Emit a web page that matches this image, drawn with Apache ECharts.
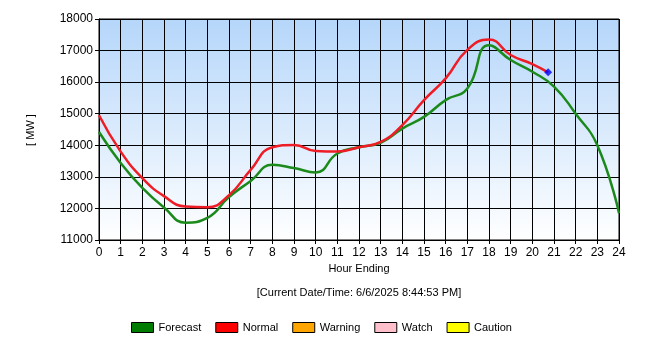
<!DOCTYPE html>
<html>
<head>
<meta charset="utf-8">
<title>System Load</title>
<script src="https://cdn.jsdelivr.net/npm/echarts@6/dist/echarts.min.js"></script>
<style>
  html, body { margin: 0; padding: 0; background: #ffffff; }
  #chart { width: 650px; height: 350px; }
</style>
</head>
<body>
<div id="chart"></div>
<script>
// Hourly system load in MW
const forecastHours = [0, 1, 2, 3, 4, 5, 6, 7, 8, 9, 10, 11, 12, 13, 14, 15, 16, 17, 18, 19, 20, 21, 22, 23, 24];
const forecastMW = [14420, 13440, 12650, 12030, 11550, 11700, 12360, 12870, 13380, 13280, 13140, 13740, 13940, 14080, 14530, 14900, 15430, 15800, 17170, 16700, 16330, 15860, 15000, 14000, 11850];

const normalHours = [0, 1, 2, 3, 4, 5, 6, 7, 8, 9, 10, 11, 12, 13, 14, 15, 16, 17, 18, 19, 20, 20.73];
const normalMW = [14950, 13800, 12960, 12390, 12060, 12040, 12420, 13220, 13940, 14010, 13820, 13800, 13940, 14110, 14640, 15430, 16120, 17020, 17350, 16860, 16570, 16310];

const yTicks = { min: 11000, max: 18000, step: 1000 };
const xTicks = { min: 0, max: 24, step: 1 };

const legendNames = ['Forecast', 'Normal', 'Warning', 'Watch', 'Caution'];
const legendColors = ['#007c00', '#ff0000', '#ffa500', '#ffc0cb', '#ffff00'];

const timestamp = '[Current Date/Time: 6/6/2025 8:44:53 PM]';

const pairs = (xs, ys) => xs.map((x, i) => [x, ys[i]]);
const lastNormal = [normalHours[normalHours.length - 1], normalMW[normalMW.length - 1]];

const font = 'Arial, "Liberation Sans", sans-serif';

const chart = echarts.init(document.getElementById('chart'), null, { renderer: 'canvas' });

const emptySeries = legendNames.slice(2).map((name, i) => ({
  name: name,
  type: 'line',
  data: [],
  itemStyle: { color: legendColors[i + 2] }
}));

chart.setOption({
  animation: false,
  backgroundColor: '#ffffff',
  textStyle: { fontFamily: font },
  grid: {
    left: 99, right: 31, top: 19, bottom: 110,
    show: true,
    borderColor: '#000000',
    borderWidth: 1,
    backgroundColor: new echarts.graphic.LinearGradient(0, 0, 0, 1, [
      { offset: 0, color: '#b5d6fa' },
      { offset: 1, color: '#ffffff' }
    ])
  },
  xAxis: {
    type: 'value',
    min: xTicks.min, max: xTicks.max, interval: xTicks.step,
    axisLine: { show: true, onZero: false, lineStyle: { color: '#000', width: 1 } },
    axisTick: { show: true, length: 4, lineStyle: { color: '#000' } },
    axisLabel: { color: '#000', fontSize: 12, margin: 7, fontFamily: font },
    splitLine: { show: true, lineStyle: { color: '#000', width: 1 } }
  },
  yAxis: {
    type: 'value',
    min: yTicks.min, max: yTicks.max, interval: yTicks.step,
    axisLine: { show: true, lineStyle: { color: '#000', width: 1 } },
    axisTick: { show: true, length: 4, lineStyle: { color: '#000' } },
    axisLabel: { color: '#000', fontSize: 12, margin: 6, fontFamily: font, formatter: v => String(v) },
    splitLine: { show: true, lineStyle: { color: '#000', width: 1 } }
  },
  legend: {
    data: legendNames,
    left: 126, top: 317,
    icon: 'rect',
    itemWidth: 22, itemHeight: 10, itemGap: 14,
    itemStyle: { borderColor: '#000', borderWidth: 1 },
    textStyle: { color: '#000', fontSize: 11, fontFamily: font },
    selectedMode: false
  },
  series: [
    {
      name: 'Forecast',
      type: 'line',
      data: pairs(forecastHours, forecastMW),
      smooth: 0.5,
      symbol: 'none',
      itemStyle: { color: legendColors[0] },
      lineStyle: { color: '#1b8a1b', width: 2.5 },
      z: 3
    },
    {
      name: 'Normal',
      type: 'line',
      data: pairs(normalHours, normalMW),
      smooth: 0.5,
      symbol: 'none',
      itemStyle: { color: legendColors[1] },
      lineStyle: { color: '#ee1c25', width: 2.5 },
      z: 4
    },
    ...emptySeries,
    {
      name: 'Now',
      type: 'scatter',
      data: [lastNormal],
      symbol: 'diamond',
      symbolSize: 8,
      itemStyle: { color: '#0000ff' },
      z: 5
    }
  ],
  graphic: [
    {
      type: 'text', x: 359, y: 269,
      style: { text: 'Hour Ending', fill: '#000', font: '11px ' + font, textAlign: 'center', textVerticalAlign: 'middle' }
    },
    {
      type: 'text', x: 359, y: 293,
      style: { text: timestamp, fill: '#000', font: '11px ' + font, textAlign: 'center', textVerticalAlign: 'middle' }
    },
    {
      type: 'text', x: 31, y: 130, rotation: Math.PI / 2,
      style: { text: '[ MW ]', fill: '#000', font: '11px ' + font, textAlign: 'center', textVerticalAlign: 'middle' }
    }
  ]
});
</script>
</body>
</html>
